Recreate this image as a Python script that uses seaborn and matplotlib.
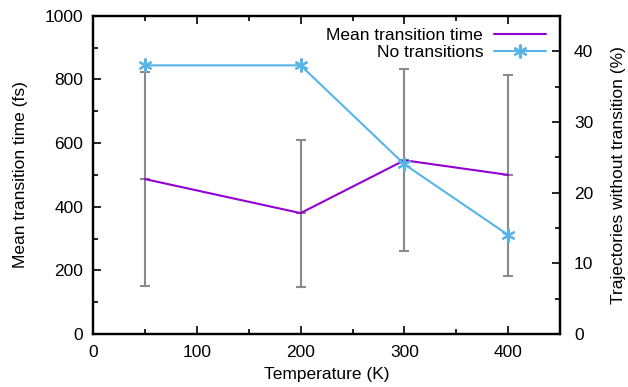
import numpy as np
import pandas as pd
import matplotlib
matplotlib.use("Agg")
import matplotlib.pyplot as plt
import matplotlib.ticker as ticker
import seaborn as sns

# Data
temperature = [50, 200, 300, 400]
mean_time = [487, 380, 546, 500]
err_low = [151, 147, 262, 182]
err_high = [825, 610, 833, 815]
no_transition_pct = [38, 38, 24, 14]

df = pd.DataFrame({"T": temperature, "mean": mean_time,
                   "lo": err_low, "hi": err_high, "pct": no_transition_pct})

sns.set_style("ticks", {"text.color": "black", "axes.labelcolor": "black",
                        "xtick.color": "black", "ytick.color": "black"})
plt.rcParams['font.family'] = ['Liberation Sans', 'DejaVu Sans']
fs = 12.5

purple = "#9400D3"
blue = "#56B4E9"
gray = "#8a8a8a"

fig = plt.figure(figsize=(6.28, 3.87), dpi=100)
ax = fig.add_axes([0.148, 0.137, 0.744, 0.822])
ax2 = ax.twinx()

# error bars (gray) with small cap at the mean
ax.vlines(df["T"], df["lo"], df["hi"], color=gray, lw=1.5, zorder=1)
ax.scatter(df["T"], df["lo"], marker="_", s=60, color=gray, lw=1.5, zorder=1)
ax.scatter(df["T"], df["hi"], marker="_", s=60, color=gray, lw=1.5, zorder=1)
ax.scatter(df["T"], df["mean"], marker="_", s=60, color=gray, lw=1.5, zorder=1)

sns.lineplot(data=df, x="T", y="mean", ax=ax, color=purple, lw=1.5,
             label="Mean transition time", legend=False, zorder=3)
sns.lineplot(data=df, x="T", y="pct", ax=ax2, color=blue, lw=1.5,
             marker=(6, 2, 0), markersize=10, markeredgewidth=1.5,
             markeredgecolor=blue, label="No transitions", legend=False, zorder=3)

ax.set_xlim(0, 450)
ax.set_ylim(0, 1000)
ax2.set_ylim(0, 45)

ax.xaxis.set_major_locator(ticker.MultipleLocator(100))
ax.xaxis.set_minor_locator(ticker.MultipleLocator(50))
ax.yaxis.set_major_locator(ticker.MultipleLocator(200))
ax.yaxis.set_minor_locator(ticker.MultipleLocator(100))
ax2.yaxis.set_major_locator(ticker.MultipleLocator(10))
ax2.yaxis.set_minor_locator(ticker.MultipleLocator(5))

ax.tick_params(axis="x", which="both", direction="in", top=True, labelsize=fs, pad=8)
ax.tick_params(axis="y", which="both", direction="in", right=False, labelsize=fs, pad=7)
ax.tick_params(which="major", length=6, width=1.2)
ax.tick_params(which="minor", length=3.5, width=1.2)
ax2.tick_params(axis="y", which="both", direction="in", labelsize=fs, pad=10)
ax2.tick_params(which="major", length=6, width=1.2)
ax2.tick_params(which="minor", length=3.5, width=1.2)

for a in (ax, ax2):
    for s in a.spines.values():
        s.set_visible(True)
        s.set_linewidth(1.6)
        s.set_color("black")

ax.set_xlabel("Temperature (K)", fontsize=fs, labelpad=5)
ax.set_ylabel("Mean transition time (fs)", fontsize=fs, labelpad=12)
ax2.set_ylabel("Trajectories without transition (%)", fontsize=fs, labelpad=13)

h1, l1 = ax.get_legend_handles_labels()
h2, l2 = ax2.get_legend_handles_labels()
ax2.legend(h1 + h2, l1 + l2, loc="upper right", frameon=False, markerfirst=False,
           fontsize=fs, handlelength=3.0, borderaxespad=0.3, labelspacing=0.12,
           handletextpad=0.6, bbox_to_anchor=(0.995, 1.0))

fig.savefig("out.png", dpi=100)
